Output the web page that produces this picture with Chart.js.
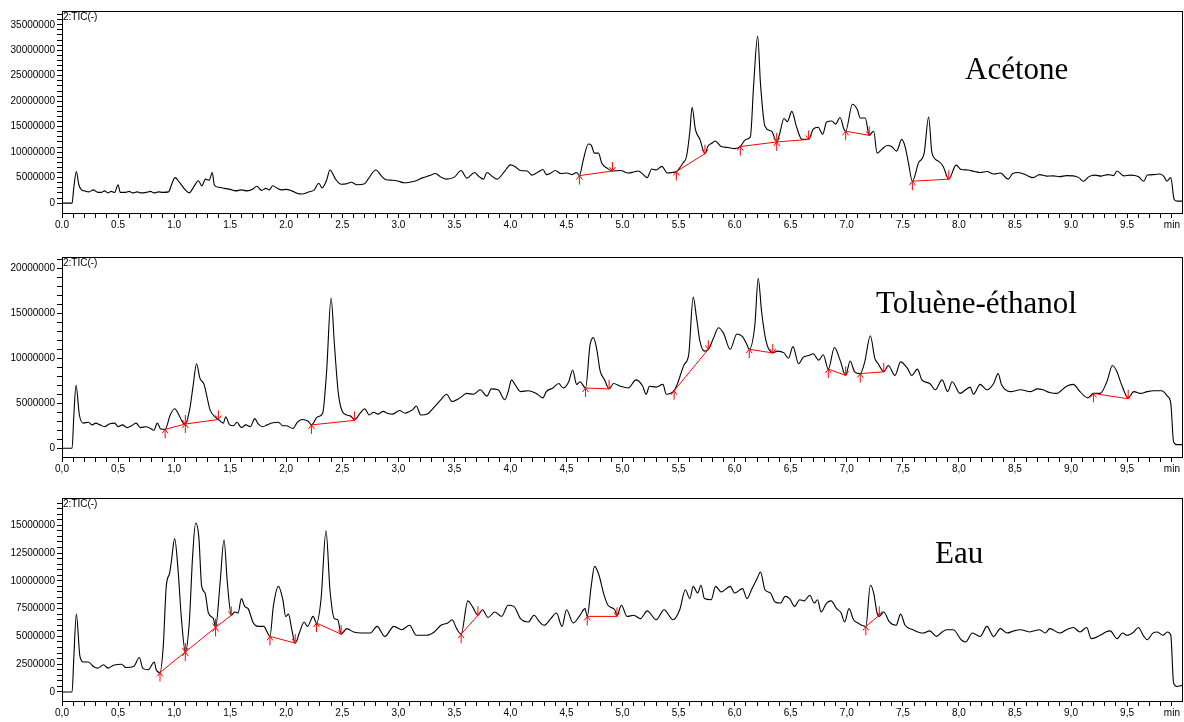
<!DOCTYPE html>
<html>
<head>
<meta charset="utf-8">
<script src="https://cdn.jsdelivr.net/npm/chart.js@4.4.1/dist/chart.umd.min.js"></script>
<style>
  html, body { margin: 0; padding: 0; background: #fff; }
  .panel { position: absolute; left: 0; width: 1184px; }
</style>
</head>
<body>
<div class="panel" style="top:0;height:245px"><canvas id="c1" width="1184" height="245"></canvas></div>
<div class="panel" style="top:245px;height:245px"><canvas id="c2" width="1184" height="245"></canvas></div>
<div class="panel" style="top:490px;height:232px"><canvas id="c3" width="1184" height="232"></canvas></div>
<script>
// [time (min), TIC intensity (millions of counts)]
const acetone = [[0,0],[0.09,0],[0.105,3.0],[0.128,6.2],[0.15,3.6],[0.175,2.6],[0.2,2.4],[0.24,2.2],[0.28,2.6],[0.31,2.2],[0.35,2.1],[0.38,2.4],[0.41,2.0],[0.44,2.3],[0.47,2.1],[0.5,3.6],[0.52,2.1],[0.56,2.1],[0.6,2.3],[0.63,2.0],[0.67,2.2],[0.71,2.0],[0.75,2.1],[0.79,2.3],[0.82,2.0],[0.86,2.2],[0.9,2.1],[0.95,2.2],[0.98,3.8],[1.008,5.0],[1.05,4.0],[1.1,2.6],[1.135,2.0],[1.17,3.0],[1.217,4.4],[1.247,3.4],[1.28,4.7],[1.313,4.5],[1.34,6.0],[1.36,3.5],[1.4,3.1],[1.45,2.9],[1.5,2.7],[1.55,2.4],[1.6,2.6],[1.65,2.4],[1.7,2.7],[1.737,3.3],[1.78,2.5],[1.82,2.9],[1.85,2.6],[1.88,3.4],[1.92,2.9],[1.96,2.6],[2.0,2.7],[2.05,2.4],[2.1,1.9],[2.14,1.8],[2.2,2.2],[2.25,2.6],[2.29,3.9],[2.32,3.0],[2.36,4.5],[2.39,6.5],[2.44,4.7],[2.49,3.7],[2.54,3.8],[2.58,4.1],[2.63,3.6],[2.7,3.8],[2.73,4.7],[2.8,6.5],[2.85,5.3],[2.89,4.6],[2.95,4.5],[3.0,4.3],[3.05,4.0],[3.1,4.1],[3.16,4.4],[3.22,5.0],[3.28,5.4],[3.33,5.8],[3.38,5.1],[3.43,4.7],[3.5,5.1],[3.56,6.4],[3.61,4.9],[3.68,6.0],[3.72,5.2],[3.76,4.7],[3.79,6.0],[3.84,5.2],[3.88,4.7],[3.95,6.3],[4.0,7.5],[4.04,7.2],[4.09,6.4],[4.15,6.3],[4.19,5.5],[4.24,6.0],[4.29,6.6],[4.32,5.6],[4.36,5.9],[4.4,6.4],[4.45,5.8],[4.5,5.9],[4.55,5.6],[4.59,6.0],[4.615,5.4],[4.65,8.5],[4.695,11.6],[4.72,11.4],[4.75,9.8],[4.785,9.8],[4.815,7.8],[4.86,6.9],[4.91,6.3],[4.98,6.4],[5.05,5.9],[5.1,6.1],[5.14,6.3],[5.18,5.7],[5.22,5.0],[5.26,6.7],[5.3,6.5],[5.35,7.2],[5.4,5.9],[5.44,6.0],[5.48,6.2],[5.54,7.9],[5.57,9.1],[5.6,14.0],[5.62,18.8],[5.65,14.4],[5.69,12.5],[5.735,9.7],[5.76,11.1],[5.8,11.8],[5.825,12.2],[5.88,11.1],[5.94,10.9],[6.0,10.7],[6.05,11.1],[6.1,12.5],[6.14,13.0],[6.17,23.5],[6.205,32.8],[6.23,23.5],[6.27,15.1],[6.33,14.1],[6.375,12.0],[6.40,13.5],[6.44,16.6],[6.47,16.0],[6.51,18.0],[6.55,15.1],[6.6,12.5],[6.66,12.5],[6.7,14.5],[6.745,14.9],[6.785,13.5],[6.82,15.9],[6.866,16.1],[6.9,15.5],[6.94,16.8],[6.975,14.5],[6.99,14.1],[7.05,19.4],[7.095,18.3],[7.12,16.7],[7.165,16.7],[7.2,13.3],[7.24,14.1],[7.27,9.8],[7.31,10.5],[7.36,11.3],[7.4,11.1],[7.445,10.2],[7.49,12.5],[7.52,11.1],[7.55,7.9],[7.585,4.3],[7.64,7.9],[7.69,9.8],[7.73,16.9],[7.76,9.8],[7.82,8.2],[7.86,7.2],[7.91,4.7],[7.975,7.45],[8.02,6.6],[8.08,6.5],[8.14,6.2],[8.19,6.0],[8.25,6.2],[8.31,5.7],[8.37,5.9],[8.44,4.7],[8.48,5.8],[8.53,6.0],[8.6,5.5],[8.66,5.0],[8.72,5.6],[8.78,5.3],[8.84,5.35],[8.9,5.2],[8.96,5.4],[9.02,5.35],[9.07,5.0],[9.11,4.3],[9.16,5.2],[9.21,5.5],[9.27,5.3],[9.33,5.6],[9.38,5.4],[9.41,6.3],[9.47,5.35],[9.53,5.5],[9.6,5.2],[9.65,4.3],[9.68,5.5],[9.74,5.6],[9.795,5.7],[9.83,5.2],[9.855,4.3],[9.89,5.0],[9.92,0.7],[9.945,0.4],[9.99,0.4]];

const tolueneEthanol = [[0,0],[0.09,0],[0.105,3.5],[0.125,7.0],[0.155,3.7],[0.19,2.8],[0.235,2.9],[0.27,2.6],[0.3,2.8],[0.34,2.6],[0.38,2.4],[0.42,2.7],[0.47,2.8],[0.5,2.4],[0.54,2.6],[0.58,2.3],[0.62,2.5],[0.66,2.8],[0.7,2.3],[0.75,2.4],[0.79,2.2],[0.82,2.0],[0.85,2.8],[0.88,2.15],[0.92,2.1],[0.965,3.7],[1.005,4.4],[1.035,3.9],[1.08,2.8],[1.10,2.7],[1.14,4.4],[1.17,7.0],[1.20,9.4],[1.23,7.8],[1.267,7.1],[1.29,5.9],[1.32,4.3],[1.365,3.5],[1.395,3.2],[1.44,2.8],[1.46,3.5],[1.495,2.6],[1.53,2.5],[1.56,2.9],[1.6,2.3],[1.64,2.6],[1.68,2.4],[1.72,3.3],[1.75,2.7],[1.79,2.4],[1.83,2.6],[1.87,2.8],[1.93,2.9],[1.97,2.5],[2.0,2.5],[2.06,2.2],[2.1,2.9],[2.14,3.2],[2.196,3.0],[2.225,2.6],[2.28,3.5],[2.325,3.9],[2.36,8.5],[2.40,16.7],[2.43,11.5],[2.465,6.1],[2.51,3.9],[2.57,3.6],[2.61,3.2],[2.66,3.9],[2.70,4.4],[2.74,3.7],[2.78,4.0],[2.82,3.8],[2.865,4.1],[2.9,3.9],[2.95,3.8],[3.01,4.2],[3.06,3.9],[3.1,4.1],[3.13,4.3],[3.16,4.7],[3.2,3.7],[3.26,3.8],[3.3,4.3],[3.33,4.7],[3.38,5.4],[3.43,6.0],[3.48,5.2],[3.55,5.6],[3.61,6.1],[3.67,6.0],[3.73,6.5],[3.79,5.8],[3.83,6.6],[3.89,6.5],[3.95,5.4],[3.98,6.3],[4.01,7.6],[4.04,7.1],[4.09,6.3],[4.16,6.4],[4.23,6.1],[4.29,5.6],[4.32,6.3],[4.38,6.7],[4.43,7.2],[4.47,6.7],[4.52,7.4],[4.555,8.7],[4.59,7.1],[4.62,7.4],[4.67,6.7],[4.71,11.5],[4.74,12.3],[4.77,11.0],[4.80,8.6],[4.84,7.6],[4.88,6.6],[4.92,7.2],[4.98,6.9],[5.05,6.7],[5.12,7.6],[5.18,6.9],[5.21,6.0],[5.24,6.9],[5.30,6.8],[5.36,7.1],[5.39,6.0],[5.46,6.4],[5.49,7.2],[5.55,9.3],[5.59,10.4],[5.63,16.8],[5.66,14.5],[5.69,11.9],[5.73,10.8],[5.765,11.0],[5.81,12.2],[5.855,13.4],[5.9,12.8],[5.96,11.0],[6.02,12.7],[6.07,12.4],[6.11,11.5],[6.13,11.0],[6.18,13.7],[6.21,18.9],[6.24,15.2],[6.28,11.9],[6.34,10.6],[6.38,10.8],[6.44,10.6],[6.48,10.0],[6.52,11.3],[6.57,9.4],[6.61,10.1],[6.66,10.3],[6.70,10.5],[6.75,9.8],[6.79,10.4],[6.835,8.8],[6.89,11.2],[6.94,9.8],[6.99,8.1],[7.03,9.7],[7.07,8.5],[7.12,8.3],[7.16,9.6],[7.21,12.5],[7.25,10.0],[7.28,9.4],[7.33,8.5],[7.37,9.2],[7.43,8.1],[7.48,9.6],[7.54,8.9],[7.58,8.1],[7.63,8.8],[7.67,7.6],[7.74,7.2],[7.79,6.5],[7.85,7.6],[7.90,6.3],[7.94,7.4],[8.01,6.1],[8.06,6.5],[8.10,6.8],[8.13,6.0],[8.19,7.1],[8.25,6.5],[8.31,7.2],[8.35,8.3],[8.38,7.1],[8.46,6.3],[8.55,6.5],[8.64,6.3],[8.7,6.6],[8.75,6.5],[8.81,6.2],[8.87,6.1],[8.96,6.9],[9.02,7.1],[9.08,6.3],[9.15,5.6],[9.2,6.1],[9.26,6.1],[9.32,7.4],[9.37,9.2],[9.41,8.5],[9.45,7.1],[9.51,5.6],[9.56,6.3],[9.62,6.1],[9.68,6.3],[9.74,6.4],[9.81,6.4],[9.86,5.8],[9.89,5.0],[9.915,0.7],[9.945,0.4],[9.99,0.4]];

const eau = [[0,0],[0.09,0],[0.105,3.0],[0.128,7.0],[0.16,3.2],[0.19,2.7],[0.235,2.7],[0.28,2.3],[0.32,2.15],[0.37,2.45],[0.41,2.15],[0.46,2.4],[0.53,2.5],[0.57,2.2],[0.64,2.3],[0.69,3.1],[0.72,2.15],[0.77,2.0],[0.823,2.7],[0.84,2.0],[0.874,1.75],[0.903,4.1],[0.93,9.5],[0.96,10.7],[0.975,11.7],[1.005,13.8],[1.035,11.0],[1.066,6.5],[1.10,3.6],[1.135,6.2],[1.165,12.2],[1.192,15.2],[1.22,14.0],[1.246,9.5],[1.276,8.9],[1.306,7.1],[1.35,6.6],[1.37,5.8],[1.41,9.8],[1.445,13.7],[1.475,9.8],[1.51,6.9],[1.543,7.2],[1.57,7.1],[1.60,8.4],[1.63,7.7],[1.66,7.5],[1.707,6.2],[1.75,5.9],[1.80,5.9],[1.83,5.4],[1.855,5.0],[1.885,7.7],[1.93,9.5],[1.97,8.3],[1.995,6.8],[2.02,7.0],[2.05,5.6],[2.08,4.4],[2.12,5.4],[2.16,6.3],[2.19,5.9],[2.24,6.8],[2.27,6.2],[2.31,8.3],[2.355,14.5],[2.39,9.2],[2.43,6.6],[2.46,6.5],[2.49,5.2],[2.54,5.7],[2.6,5.4],[2.67,5.3],[2.75,5.3],[2.81,5.9],[2.88,5.0],[2.96,5.9],[3.03,5.6],[3.10,6.0],[3.16,5.1],[3.25,5.1],[3.32,5.4],[3.38,6.0],[3.44,6.2],[3.48,6.5],[3.52,5.7],[3.56,5.2],[3.62,8.2],[3.66,7.7],[3.71,6.9],[3.75,7.4],[3.80,6.7],[3.86,7.2],[3.92,6.8],[3.98,7.8],[4.03,7.7],[4.09,6.6],[4.16,6.3],[4.21,6.9],[4.26,6.3],[4.30,6.0],[4.36,6.6],[4.41,7.1],[4.46,5.9],[4.50,7.4],[4.56,6.2],[4.62,6.9],[4.665,7.5],[4.685,6.8],[4.72,9.5],[4.75,11.3],[4.79,10.5],[4.83,8.9],[4.87,7.8],[4.93,7.4],[4.95,6.9],[4.99,7.8],[5.04,6.8],[5.10,6.9],[5.16,6.6],[5.22,7.3],[5.30,6.5],[5.37,7.4],[5.45,6.5],[5.51,7.4],[5.56,9.2],[5.60,8.4],[5.63,9.5],[5.67,8.9],[5.70,9.6],[5.73,8.4],[5.79,8.3],[5.83,9.5],[5.88,9.0],[5.96,9.5],[6.0,8.9],[6.07,9.3],[6.11,8.4],[6.15,9.2],[6.20,10.2],[6.23,10.8],[6.27,9.2],[6.32,8.9],[6.36,8.1],[6.41,8.0],[6.45,8.6],[6.49,8.4],[6.535,7.7],[6.58,8.3],[6.62,8.2],[6.67,8.7],[6.71,8.0],[6.74,8.3],[6.77,7.2],[6.82,8.0],[6.86,8.2],[6.91,7.5],[6.95,7.1],[6.98,6.3],[7.02,7.5],[7.06,6.5],[7.10,6.2],[7.17,5.9],[7.21,9.6],[7.24,8.9],[7.27,7.1],[7.29,6.8],[7.33,7.2],[7.38,6.3],[7.44,6.0],[7.48,7.0],[7.52,6.0],[7.59,5.6],[7.68,5.3],[7.74,5.5],[7.80,5.0],[7.85,5.4],[7.89,5.6],[7.95,5.6],[8.02,4.7],[8.06,4.5],[8.12,5.3],[8.19,5.0],[8.25,5.9],[8.31,5.0],[8.37,5.7],[8.43,5.3],[8.49,5.5],[8.55,5.6],[8.63,5.4],[8.72,5.6],[8.77,5.3],[8.81,5.7],[8.9,5.3],[8.96,5.6],[9.02,5.8],[9.08,5.4],[9.14,5.8],[9.18,4.8],[9.26,5.1],[9.31,5.4],[9.35,5.5],[9.41,4.8],[9.46,5.3],[9.5,5.1],[9.56,5.4],[9.60,5.8],[9.65,5.0],[9.68,4.7],[9.73,5.3],[9.77,5.4],[9.82,5.1],[9.86,5.4],[9.89,5.1],[9.915,0.8],[9.945,0.5],[9.99,0.6]];

// integration baselines: [start time, start value, end time, end value]
const acetoneBaselines = [[4.615,5.4,4.91,6.3],[5.48,6.2,5.735,9.7],[6.05,11.1,6.375,12.0],[6.375,12.0,6.66,12.5],[6.99,14.1,7.20,13.3],[7.585,4.3,7.91,4.7]];
const tolueneBaselines = [[0.92,2.1,1.10,2.7],[1.10,2.7,1.395,3.2],[2.225,2.6,2.61,3.1],[4.67,6.7,4.88,6.6],[5.46,6.4,5.765,11.0],[6.13,11.0,6.34,10.6],[6.835,8.8,6.99,8.1],[7.12,8.3,7.33,8.5],[9.2,6.1,9.51,5.5]];
const eauBaselines = [[0.874,1.75,1.10,3.6],[1.10,3.6,1.37,5.8],[1.37,5.8,1.51,6.9],[1.855,5.0,2.08,4.4],[2.27,6.2,2.49,5.2],[3.56,5.2,3.71,6.9],[4.685,6.8,4.95,6.8],[7.17,5.9,7.29,6.9]];

const panelNames = ['Acétone', 'Toluène-éthanol', 'Eau'];

const sansFont = '"Liberation Sans", Arial, sans-serif';

const framePlugin = {
    id: 'frame',
    afterDatasetsDraw(chart, args, opts) {
        const { ctx, chartArea: a, scales } = chart;
        ctx.save();
        // arrow markers on baseline ends
        ctx.strokeStyle = '#ff0000';
        ctx.lineWidth = 1;
        (opts.baselines || []).forEach(b => {
            const sx = scales.x.getPixelForValue(b[0]), sy = scales.y.getPixelForValue(b[1]);
            const ex = scales.x.getPixelForValue(b[2]), ey = scales.y.getPixelForValue(b[3]);
            ctx.beginPath();
            ctx.moveTo(sx, sy + 9); ctx.lineTo(sx, sy);
            ctx.moveTo(sx - 3, sy + 4); ctx.lineTo(sx, sy); ctx.lineTo(sx + 3, sy + 4);
            ctx.moveTo(ex, ey - 9); ctx.lineTo(ex, ey);
            ctx.moveTo(ex - 3, ey - 4); ctx.lineTo(ex, ey); ctx.lineTo(ex + 3, ey - 4);
            ctx.stroke();
        });
        // box around plot
        ctx.strokeStyle = '#000';
        ctx.strokeRect(Math.round(a.left) + 0.5, Math.round(a.top) + 0.5,
            Math.round(a.right - a.left), Math.round(a.bottom - a.top));
        ctx.fillStyle = '#000';
        ctx.font = '10px ' + sansFont;
        ctx.textBaseline = 'top';
        ctx.textAlign = 'left';
        ctx.fillText('2:TIC(-)', a.left + 1, a.top + 1);
        ctx.font = '31px "Liberation Serif", "Times New Roman", serif';
        ctx.textBaseline = 'alphabetic';
        ctx.fillText(opts.name, opts.nameX, opts.nameY);
        ctx.restore();
    }
};

function makeChart(id, trace, baselines, cfg) {
    const ctx = document.getElementById(id).getContext('2d');
    const baseData = [];
    baselines.forEach(b => {
        baseData.push({ x: b[0], y: b[1] }, { x: b[2], y: b[3] }, { x: b[2], y: null });
    });
    return new Chart(ctx, {
        type: 'line',
        data: {
            datasets: [{
                data: baseData,
                borderColor: '#ff0000',
                borderWidth: 1,
                pointRadius: 0,
                spanGaps: false,
                tension: 0,
                order: 0
            }, {
                data: trace.map(p => ({ x: p[0], y: p[1] })),
                borderColor: '#000',
                borderWidth: 1.1,
                pointRadius: 0,
                cubicInterpolationMode: 'monotone',
                order: 1
            }]
        },
        plugins: [framePlugin],
        options: {
            responsive: false,
            animation: false,
            layout: { padding: { top: cfg.top, right: 2, left: 0, bottom: 0 } },
            plugins: {
                legend: { display: false },
                tooltip: { enabled: false },
                frame: { baselines: baselines, name: cfg.name, nameX: cfg.nameX, nameY: cfg.nameY }
            },
            scales: {
                x: {
                    type: 'linear',
                    min: 0,
                    max: 9.99,
                    afterBuildTicks: s => {
                        const t = [];
                        for (let i = 0; i <= 99; i++) t.push({ value: i / 10 });
                        s.ticks = t;
                    },
                    afterFit: s => { s.height = cfg.xHeight; },
                    grid: { drawOnChartArea: false, tickLength: 5, color: '#000' },
                    border: { color: '#000' },
                    ticks: {
                        autoSkip: false,
                        maxRotation: 0,
                        padding: 1,
                        color: '#000',
                        font: { family: sansFont, size: 10 },
                        callback: v => {
                            const k = Math.round(v * 10);
                            if (k === 99) return 'min';
                            if (k % 5 !== 0) return '';
                            return (k / 10).toFixed(1).replace('.', cfg.sep);
                        }
                    }
                },
                y: {
                    min: cfg.yMin,
                    max: cfg.yMax,
                    afterBuildTicks: s => {
                        const t = [];
                        const n = Math.floor(cfg.yMax / cfg.minor + 1e-6);
                        for (let i = 0; i <= n; i++) t.push({ value: i * cfg.minor });
                        s.ticks = t;
                    },
                    afterFit: s => { s.width = 62; },
                    grid: { drawOnChartArea: false, tickLength: 5, color: '#000' },
                    border: { color: '#000' },
                    ticks: {
                        autoSkip: false,
                        padding: 2,
                        color: '#000',
                        font: { family: sansFont, size: 10 },
                        callback: v => {
                            const r = v / cfg.major;
                            if (Math.abs(r - Math.round(r)) > 1e-6) return '';
                            return (Math.round(v * 1e6)).toString();
                        }
                    }
                }
            }
        }
    });
}

makeChart('c1', acetone, acetoneBaselines, {
    top: 11, xHeight: 32, yMin: -1.94, yMax: 37.7, major: 5, minor: 1, sep: '.',
    name: panelNames[0], nameX: 965, nameY: 79
});
makeChart('c2', tolueneEthanol, tolueneBaselines, {
    top: 12, xHeight: 33, yMin: -0.97, yMax: 21.26, major: 5, minor: 1, sep: ',',
    name: panelNames[1], nameX: 876, nameY: 68
});
makeChart('c3', eau, eauBaselines, {
    top: 8, xHeight: 21, yMin: -0.81, yMax: 17.45, major: 2.5, minor: 0.5, sep: ',',
    name: panelNames[2], nameX: 935, nameY: 73
});
</script>
</body>
</html>
